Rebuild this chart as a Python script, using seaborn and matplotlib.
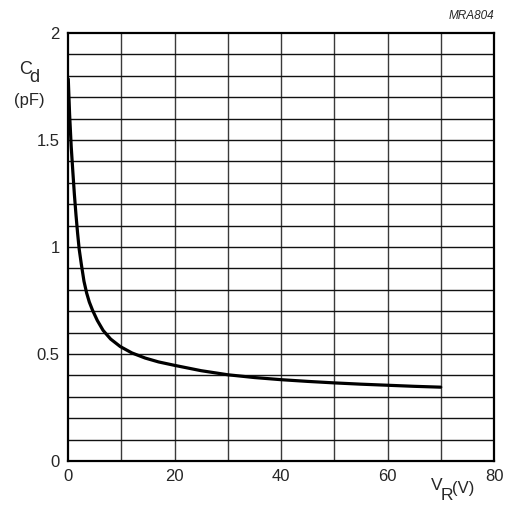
import numpy as np
import pandas as pd
import seaborn as sns
from matplotlib import pyplot as plt

# diode capacitance vs reverse voltage
vr = [0.05, 0.3, 0.6, 0.9, 1.2, 1.5, 1.8, 2.1, 2.5, 3.0, 3.5, 4.0, 4.6, 5.5, 6.6, 8.0, 9.8,
      12.0, 14.5, 17.0, 20.0, 25.0, 30.0, 35.0, 40.0, 45.0, 50.0, 55.0, 60.0, 65.0, 70.0]
cd = [1.785, 1.62, 1.47, 1.355, 1.245, 1.15, 1.065, 0.99, 0.92, 0.84, 0.785, 0.743, 0.705, 0.657, 0.61, 0.57, 0.535,
      0.505, 0.481, 0.463, 0.447, 0.422, 0.403, 0.39, 0.38, 0.372, 0.365, 0.359, 0.354, 0.349, 0.345]

xticks = [0, 20, 40, 60, 80]
xtick_labels = ['0', '20', '40', '60', '80']
yticks = [0, 0.5, 1, 1.5, 2]
ytick_labels = ['0', '0.5', '1', '1.5', '2']

sns.set_style("white")
plt.rcParams['font.family'] = ['Liberation Sans', 'DejaVu Sans']

W, H = 509, 511
fig = plt.figure(figsize = (W/100, H/100), dpi = 100)
ax = fig.add_axes([68/W, 1 - 461/H, (494 - 68)/W, (461 - 33)/H])

# grid: every 10 V and every 0.1 pF
for x in np.arange(10, 80, 10):
    ax.axvline(x, color = '#3a3a3a', lw = 1, zorder = 1)
for y in np.arange(0.1, 2.0, 0.1):
    ax.axhline(y, color = '#111111', lw = 1, zorder = 1)

df = pd.DataFrame({'VR': vr, 'Cd': cd})
sns.lineplot(data = df, x = 'VR', y = 'Cd', color = 'black', lw = 2.3, ax = ax, zorder = 3)

ax.set_xlim(0, 80)
ax.set_ylim(0, 2)
ax.set_xticks(xticks)
ax.set_xticklabels(xtick_labels)
ax.set_yticks(yticks)
ax.set_yticklabels(ytick_labels)
ax.tick_params(axis = 'both', length = 0, labelsize = 12, pad = 6)
ax.set_xlabel('')
ax.set_ylabel('')
for s in ax.spines.values():
    s.set_color('black')
    s.set_linewidth(1.6)

def px(x, y):
    return x/W, 1 - y/H

fig.text(*px(19, 69), 'C', fontsize = 13, ha = 'left', va = 'center')
fig.text(*px(29.5, 77), 'd', fontsize = 13, ha = 'left', va = 'center')
fig.text(*px(29, 100), '(pF)', fontsize = 12, ha = 'center', va = 'center')
fig.text(*px(431, 485), 'V', fontsize = 12.5, ha = 'left', va = 'center')
fig.text(*px(441, 495), 'R', fontsize = 12.5, ha = 'left', va = 'center')
fig.text(*px(452, 488), '(V)', fontsize = 12, ha = 'left', va = 'center')
fig.text(*px(494, 16), 'MRA804', fontsize = 8.5, style = 'italic', ha = 'right', va = 'center')

fig.savefig('out.png', dpi = 100)
